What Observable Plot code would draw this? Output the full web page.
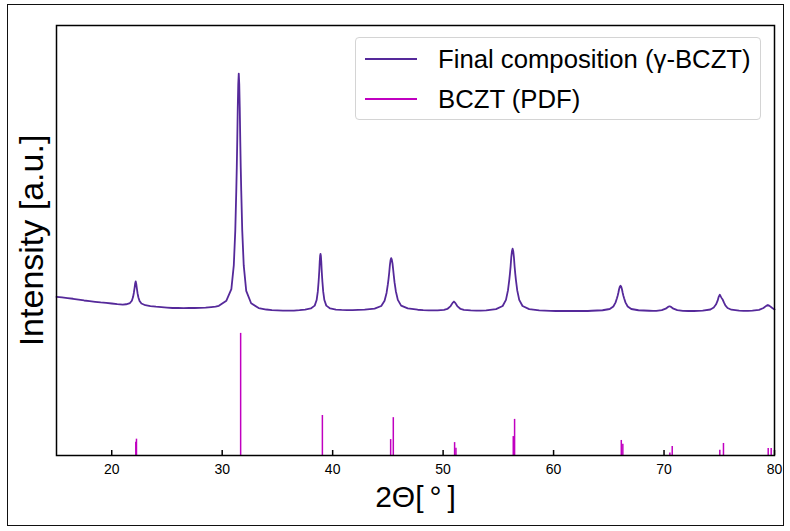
<!DOCTYPE html>
<html>
<head>
<meta charset="utf-8">
<script src="https://cdn.jsdelivr.net/npm/d3@7"></script>
<script src="https://cdn.jsdelivr.net/npm/@observablehq/plot@0.6"></script>
<style>
  html, body { margin: 0; padding: 0; background: #fff; }
  #wrap { position: relative; width: 790px; height: 531px; font-family: "Liberation Sans", Arial, sans-serif; }
  #outer { position: absolute; left: 7px; top: 4px; width: 777px; height: 522px; border: 1.5px solid #111; box-sizing: border-box; pointer-events: none; }
  #legend { position: absolute; left: 355px; top: 37px; width: 406px; height: 83px; border: 1px solid #d4d4d4; border-radius: 4px; background: rgba(255,255,255,0.85); box-sizing: border-box; font-size: 25.7px; color: #000; }
  .row { position: absolute; left: 0; height: 40px; width: 100%; }
  .sw { position: absolute; left: 9px; top: 19px; width: 52px; height: 1.6px; }
  .lab { position: absolute; left: 82px; top: 0; height: 40px; line-height: 40px; white-space: nowrap; }
</style>
</head>
<body>
<div id="wrap">
  <div id="chart"></div>
  <div id="legend"></div>
  <div id="outer"></div>
</div>
<script>
const twoTheta = [
  15.0,15.5,16.0,16.5,17.0,17.5,18.0,18.5,19.0,19.5,20.0,20.5,21.0,
  21.30,21.65,21.82,21.93,22.00,22.07,22.12,22.17,22.22,22.27,22.34,22.41,22.52,22.69,23.04,
  23.5,24.0,24.5,25.0,25.5,26.0,26.5,27.0,27.5,28.0,28.5,29.0,29.4,
  29.70,30.38,30.83,31.05,31.185,31.275,31.32,31.365,31.41,31.455,31.50,31.545,31.59,31.635,31.68,31.725,31.815,31.95,32.175,32.62,33.3,
  34.0,34.5,35.0,35.5,36.0,36.5,37.0,
  37.5,38.025,38.375,38.55,38.655,38.725,38.76,38.795,38.83,38.865,38.9,38.935,38.97,39.005,39.04,39.075,39.145,39.25,39.425,39.775,40.3,
  40.8,41.3,41.8,42.3,
  42.9,43.8,44.4,44.7,44.88,45.0,45.06,45.12,45.18,45.24,45.30,45.36,45.42,45.48,45.54,45.60,45.72,45.90,46.20,46.80,47.7,
  48.2,48.7,49.1,
  49.5,50.08,50.38,50.68,50.86,50.98,51.10,51.28,51.58,51.88,52.5,
  53.0,53.4,
  53.9,54.79,55.39,55.69,55.87,55.99,56.05,56.11,56.17,56.23,56.29,56.35,56.41,56.47,56.53,56.59,56.71,56.89,57.19,57.79,58.7,
  59.2,59.7,60.2,60.7,61.2,61.7,62.2,62.7,63.1,
  63.46,64.435,65.085,65.41,65.605,65.735,65.80,65.865,65.93,65.995,66.06,66.125,66.19,66.255,66.32,66.385,66.515,66.71,67.035,67.685,68.66,
  69.0,
  69.3,69.8,70.15,70.36,70.5,70.64,70.85,71.2,71.7,
  72.2,72.7,73.1,
  73.5,74.2,74.5,74.7,74.85,74.95,75.05,75.13,75.22,75.32,75.42,75.55,75.75,76.1,76.8,
  77.2,77.6,
  78.0,78.6,79.0,79.25,79.4,79.55,79.8,80.0
];
const intensity = [
  36.9,36.75,36.6,36.45,36.25,36.05,35.9,35.75,35.6,35.5,35.35,35.2,35.1,
  35.17,35.45,36.0,36.85,37.8,39.0,40.0,40.5,39.9,38.9,37.7,36.8,35.95,35.35,34.95,
  34.75,34.6,34.5,34.4,34.3,34.3,34.25,34.3,34.3,34.35,34.4,34.5,34.6,
  34.8,36.0,38.7,44.2,52.3,61.5,66.9,73.4,81.0,86.4,88.8,86.4,81.0,73.4,66.9,61.5,52.3,44.2,38.3,35.4,34.3,
  33.95,33.8,33.75,33.7,33.7,33.7,33.8,
  33.93,34.19,34.85,36.16,38.1,40.35,41.7,43.2,45.1,46.4,46.9,46.4,45.1,43.2,41.7,40.35,38.1,36.16,34.85,34.19,33.93,
  33.85,33.8,33.8,33.85,
  33.92,34.16,34.77,35.98,37.8,39.85,41.1,42.5,44.2,45.4,45.9,45.5,44.6,43.2,41.7,40.3,38.2,36.2,34.85,34.2,33.9,
  33.8,33.75,33.75,
  33.76,33.87,34.08,34.75,35.5,35.8,35.5,34.75,34.08,33.87,33.76,
  33.7,33.7,
  33.75,34.03,34.76,36.2,38.4,40.85,42.3,44.0,46.1,47.5,48.1,47.5,46.1,44.0,42.3,40.85,38.4,36.2,34.76,34.03,33.75,
  33.7,33.65,33.6,33.65,33.6,33.6,33.65,33.6,33.6,
  33.66,33.78,34.07,34.66,35.55,36.55,37.14,37.85,38.67,39.26,39.5,39.26,38.67,37.85,37.14,36.55,35.55,34.66,34.07,33.78,33.66,
  33.62,
  33.64,33.8,34.15,34.55,34.7,34.55,34.15,33.8,33.64,
  33.6,33.6,33.65,
  33.7,33.95,34.4,35.1,36.0,36.9,37.4,37.0,36.6,36.2,35.6,34.9,34.3,33.9,33.7,
  33.65,33.65,
  33.67,33.85,34.3,34.8,35.0,34.8,34.3,33.95
];

// Reference pattern (PDF) stick lines
const stickTheta = [22.18,22.24,31.67,39.07,45.25,45.49,51.04,51.16,56.35,56.47,66.13,66.27,70.53,70.74,75.05,75.38,79.43,79.70];
const stickIntensity = [3.1,3.8,28.4,9.3,3.7,8.8,3.0,1.7,4.4,8.4,3.5,2.6,0.6,2.1,1.2,2.8,1.6,1.6];

const xTicks = [20,30,40,50,60,70,80];
const seriesNames = ["Final composition (γ-BCZT)", "BCZT (PDF)"];
const seriesColors = ["#55299a", "#c000c0"];
const xLabel = "2Θ[\u2009°\u2009]";
const yLabel = "Intensity [a.u.]";

const pattern = twoTheta.map((t, i) => ({theta: t, intensity: intensity[i]}));
const sticks = stickTheta.map((t, i) => ({theta: t, intensity: stickIntensity[i]}));

const chart = Plot.plot({
  width: 790,
  height: 531,
  marginLeft: 56,
  marginRight: 16,
  marginTop: 25,
  marginBottom: 76,
  style: {fontFamily: "'Liberation Sans', Arial, sans-serif", background: "transparent", color: "#000"},
  x: {domain: [15, 80]},
  y: {domain: [0, 100], axis: null},
  marks: [
    Plot.ruleX(sticks, {x: "theta", y1: 0, y2: "intensity", stroke: seriesColors[1], strokeWidth: 1.5}),
    Plot.line(pattern, {x: "theta", y: "intensity", stroke: seriesColors[0], strokeWidth: 1.8, strokeLinejoin: "round"}),
    Plot.tickX(xTicks, {x: d => d, insetTop: 425, stroke: "#000", strokeWidth: 1.5}),
    Plot.axisX({ticks: xTicks, tickSize: 0, tickPadding: 9, fontSize: 14, label: null, tickFormat: d => String(d)}),
    Plot.frame({stroke: "#000", strokeWidth: 1.5}),
    Plot.text([xLabel], {text: d => d, frameAnchor: "bottom", dy: 51, fontSize: 30, fill: "#000"}),
    Plot.text([yLabel], {text: d => d, frameAnchor: "left", textAnchor: "middle", dx: -24, rotate: -90, fontSize: 34, fill: "#000"})
  ]
});
document.getElementById("chart").appendChild(chart);

const legend = document.getElementById("legend");
seriesNames.forEach((name, i) => {
  const row = document.createElement("div");
  row.className = "row";
  row.style.top = (1 + i * 40) + "px";
  const sw = document.createElement("div");
  sw.className = "sw";
  sw.style.background = seriesColors[i];
  const lab = document.createElement("div");
  lab.className = "lab";
  lab.textContent = name;
  row.appendChild(sw);
  row.appendChild(lab);
  legend.appendChild(row);
});
</script>
</body>
</html>
